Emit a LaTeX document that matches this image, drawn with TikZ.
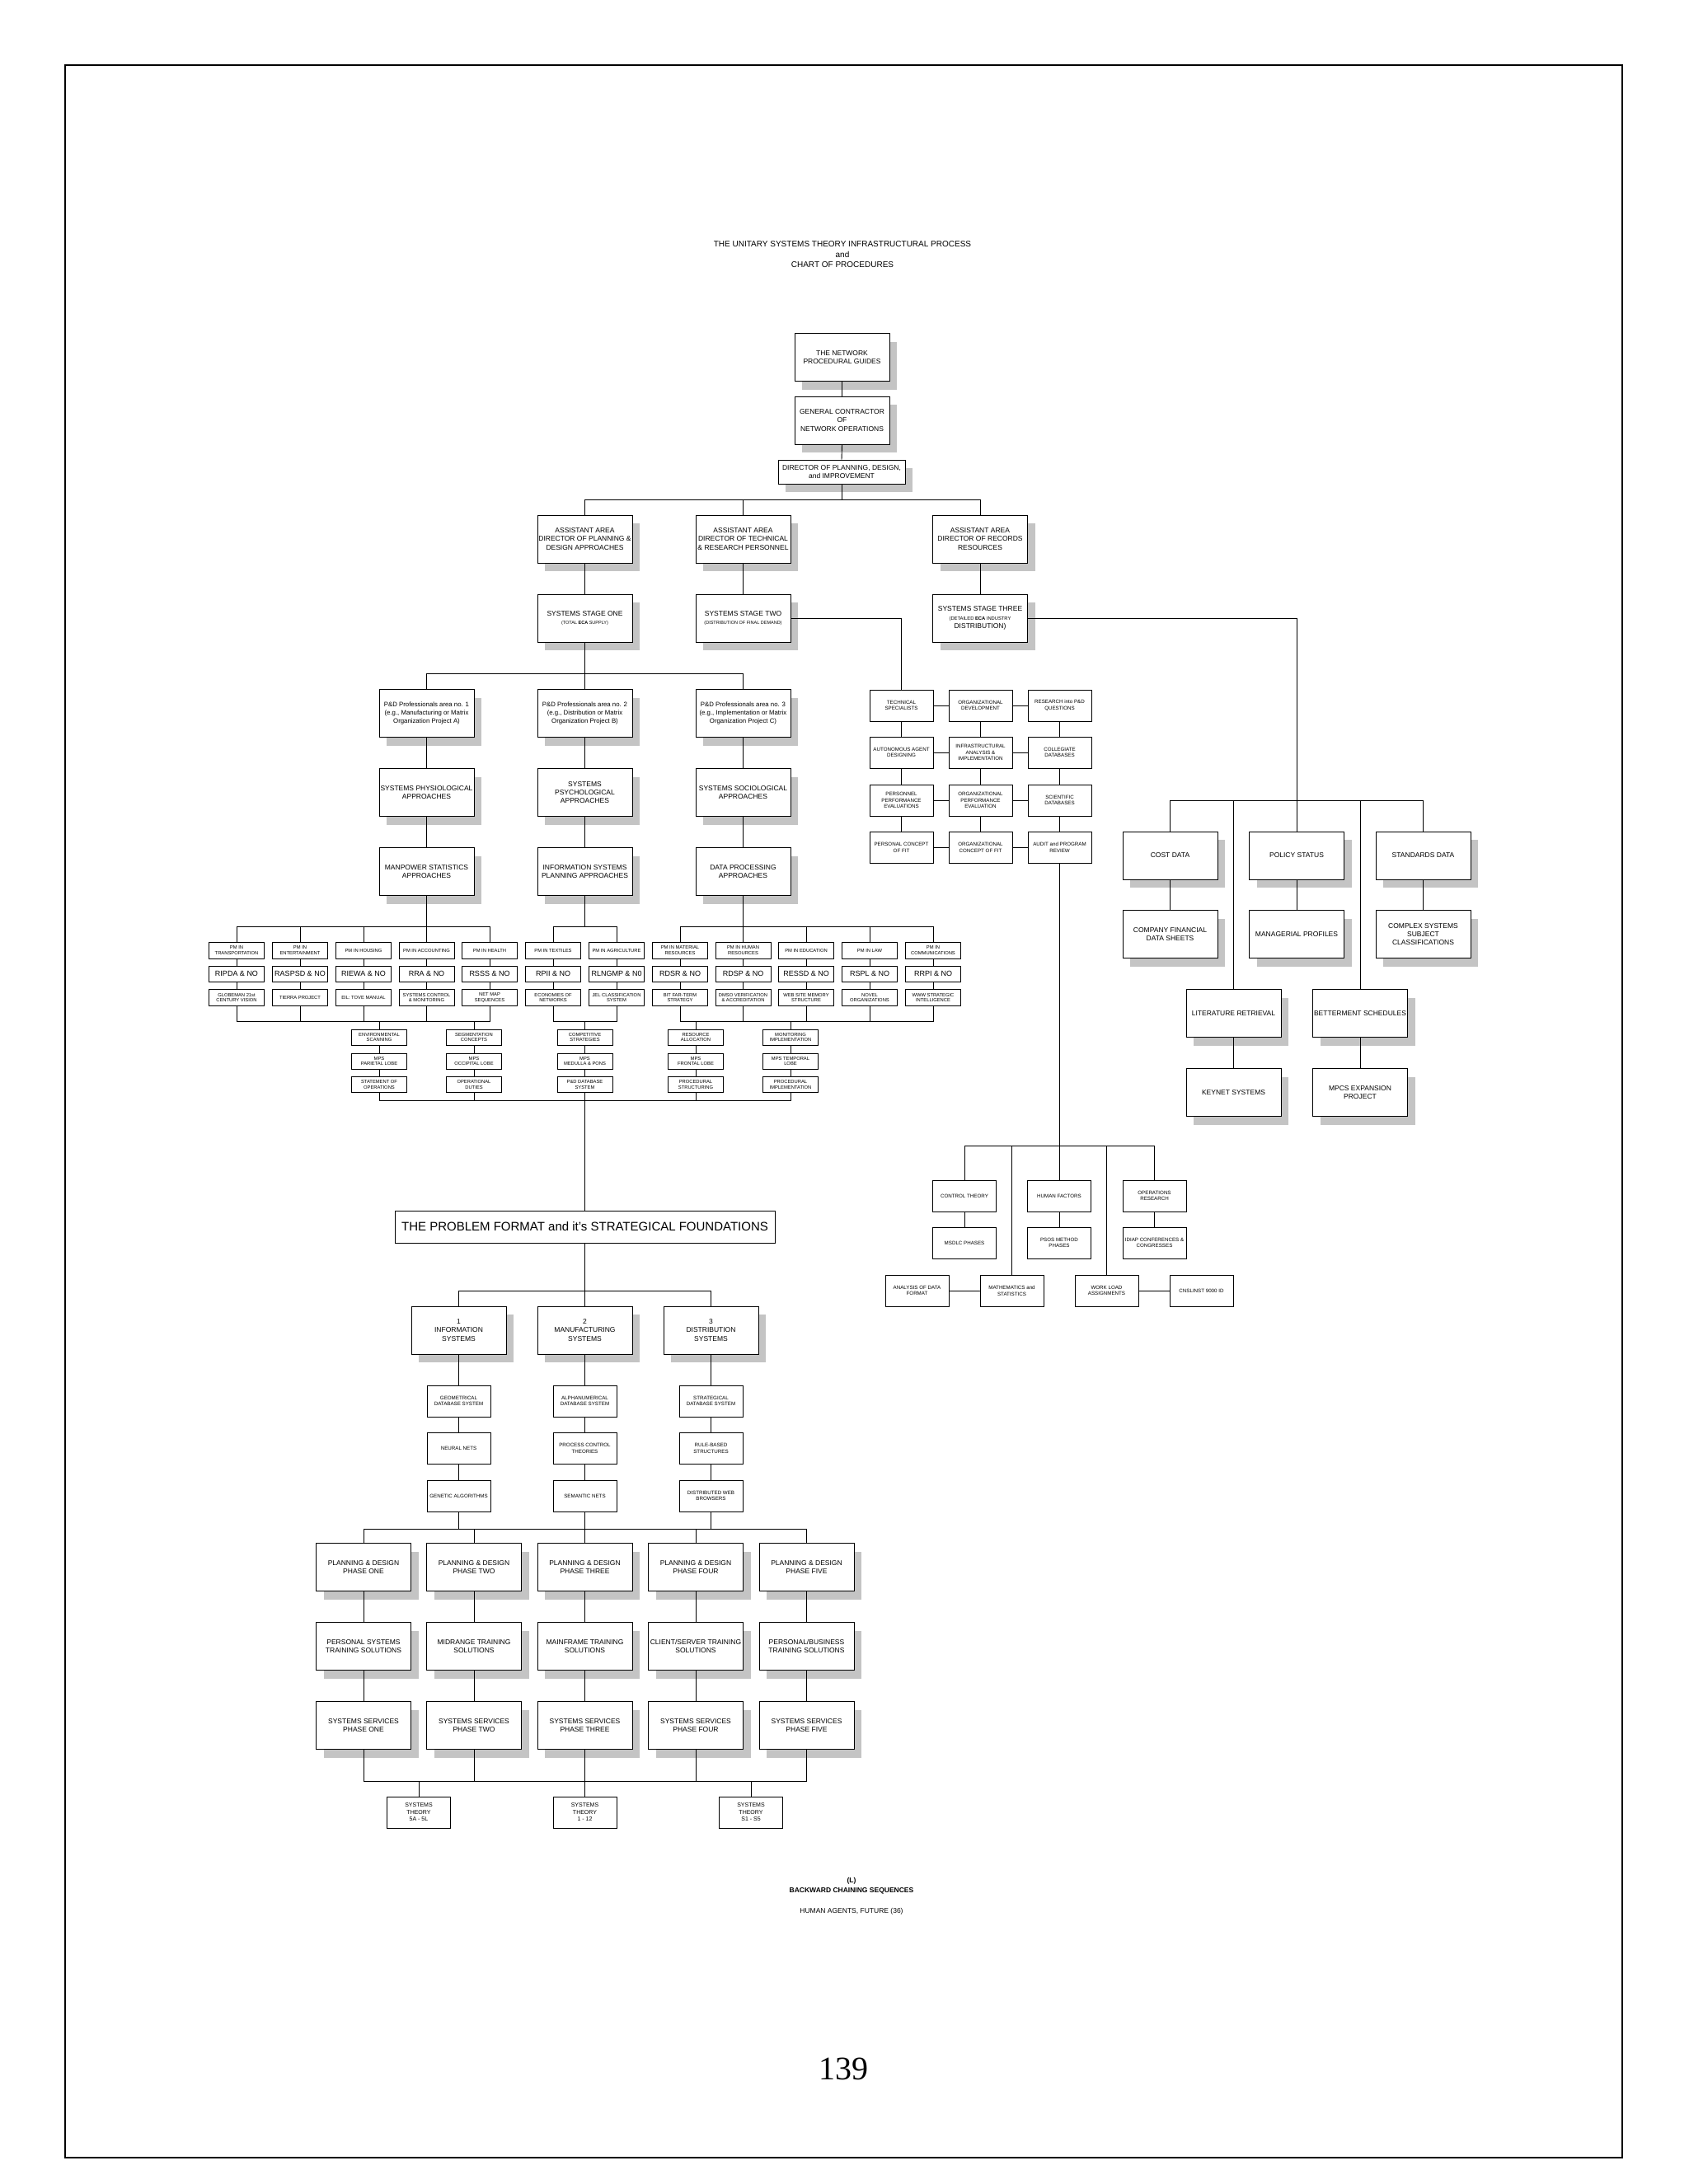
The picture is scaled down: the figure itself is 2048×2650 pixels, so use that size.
\documentclass[tikz,border=0pt]{standalone}
\usepackage{fontspec}
\setmainfont{Liberation Sans}
\newfontfamily\serifnum{Liberation Serif}
\usetikzlibrary{shadows}
\newcommand\fs[2]{\fontsize{#1}{#2}\selectfont}
\definecolor{shgray}{HTML}{C4C4C4}
\tikzset{
 every node/.style={inner sep=0pt, align=center},
 bx/.style={draw, line width=0.9pt, fill=white},
 shd/.style={drop shadow={shadow xshift=9pt, shadow yshift=-10pt, fill=shgray, opacity=1}},
 M/.style={bx,shd,minimum width=115pt,minimum height=58pt,font=\fs{8.5}{10.3}},
 S/.style={bx,minimum width=77pt,minimum height=38pt,font=\fs{6.2}{7.6}},
 P/.style={bx,minimum width=67pt,minimum height=20pt,font=\fs{5.8}{6.8}},
 R/.style={bx,minimum width=67pt,minimum height=19pt,font=\fs{9}{10}},
 ln/.style={line width=0.9pt}
}
\newcommand\busdown[3]{\foreach \c in {#3}{\draw[ln] (#1.south) -- (#1.south |- 0,#2) -| (\c.north);}}
\newcommand\busup[3]{\foreach \c in {#3}{\draw[ln] (\c.south) -- (\c.south |- 0,#2) -| (#1.north);}}
\newcommand\vl[2]{\draw[ln] (#1.south) -- (#2.north);}
\newcommand\hl[2]{\draw[ln] (#1.east) -- (#2.west);}
\begin{document}
\begin{tikzpicture}[x=1pt,y=-1pt]
\useasboundingbox (0,0) rectangle (2048,2650);
\fill[white] (0,0) rectangle (2048,2650);
\draw[line width=1.2pt] (79,79) rectangle (1968,2618);
% title
\node[font=\fs{10}{12.5}] (title) at (1022,309) {THE UNITARY SYSTEMS THEORY INFRASTRUCTURAL PROCESS\\and\\CHART OF PROCEDURES};
% top chain
\node[M] (net) at (1021.5,433.5) {THE NETWORK\\PROCEDURAL GUIDES};
\node[M] (gc) at (1021.5,510) {GENERAL CONTRACTOR\\OF\\NETWORK OPERATIONS};
\node[bx,shd,minimum width=154pt,minimum height=29pt,font=\fs{8.5}{10.3}] (dir) at (1021,572.5) {DIRECTOR OF PLANNING, DESIGN,\\and IMPROVEMENT};
\node[M] (aa1) at (709.5,654) {ASSISTANT AREA\\DIRECTOR OF PLANNING \&\\DESIGN APPROACHES};
\node[M] (aa2) at (901.5,654) {ASSISTANT AREA\\DIRECTOR OF TECHNICAL\\\& RESEARCH PERSONNEL};
\node[M] (aa3) at (1189,654) {ASSISTANT AREA\\DIRECTOR OF RECORDS\\RESOURCES};
\node[M] (st1) at (709.5,750) {SYSTEMS STAGE ONE\\\fs{5.5}{6.5}(TOTAL \textbf{ECA} SUPPLY)};
\node[M] (st2) at (901.5,750) {SYSTEMS STAGE TWO\\\fs{5.5}{6.5}(DISTRIBUTION OF FINAL DEMAND)};
\node[M] (st3) at (1189,750) {SYSTEMS STAGE THREE\\\fs{5.8}{7}(DETAILED \textbf{ECA} INDUSTRY\\DISTRIBUTION)};
\vl{net}{gc} \vl{gc}{dir}
\busdown{dir}{606}{aa1,aa2,aa3}
\vl{aa1}{st1} \vl{aa2}{st2} \vl{aa3}{st3}
% P&D columns
\node[M,font=\fs{7.8}{10.3}] (pd1) at (517.5,865.5) {P\&D Professionals area no. 1\\(e.g., Manufacturing or Matrix\\Organization Project A)};
\node[M,font=\fs{7.8}{10.3}] (pd2) at (709.5,865.5) {P\&D Professionals area no. 2\\(e.g., Distribution or Matrix\\Organization Project B)};
\node[M,font=\fs{7.8}{10.3}] (pd3) at (901.5,865.5) {P\&D Professionals area no. 3\\(e.g., Implementation or Matrix\\Organization Project C)};
\node[M] (ph1) at (517.5,961.5) {SYSTEMS PHYSIOLOGICAL\\APPROACHES};
\node[M] (ph2) at (709.5,961.5) {SYSTEMS\\PSYCHOLOGICAL\\APPROACHES};
\node[M] (ph3) at (901.5,961.5) {SYSTEMS SOCIOLOGICAL\\APPROACHES};
\node[M] (mp1) at (517.5,1057.5) {MANPOWER STATISTICS\\APPROACHES};
\node[M] (mp2) at (709.5,1057.5) {INFORMATION SYSTEMS\\PLANNING APPROACHES};
\node[M] (mp3) at (901.5,1057.5) {DATA PROCESSING\\APPROACHES};
\busdown{st1}{817}{pd1,pd2,pd3}
\vl{pd1}{ph1} \vl{pd2}{ph2} \vl{pd3}{ph3}
\vl{ph1}{mp1} \vl{ph2}{mp2} \vl{ph3}{mp3}
% PM rows
\node[P] (p1) at (287,1153) {PM IN\\TRANSPORTATION};
\node[P] (p2) at (364,1153) {PM IN\\ENTERTAINMENT};
\node[P] (p3) at (441,1153) {PM IN HOUSING};
\node[P] (p4) at (517.5,1153) {PM IN ACCOUNTING};
\node[P] (p5) at (594,1153) {PM IN HEALTH};
\node[P] (p6) at (671,1153) {PM IN TEXTILES};
\node[P] (p7) at (748,1153) {PM IN AGRICULTURE};
\node[P] (p8) at (825,1153) {PM IN MATERIAL\\RESOURCES};
\node[P] (p9) at (901.5,1153) {PM IN HUMAN\\RESOURCES};
\node[P] (p10) at (978,1153) {PM IN EDUCATION};
\node[P] (p11) at (1055,1153) {PM IN LAW};
\node[P] (p12) at (1132,1153) {PM IN\\COMMUNICATIONS};
\node[R] (r1) at (287,1181.5) {RIPDA \& NO};
\node[R] (r2) at (364,1181.5) {RASPSD \& NO};
\node[R] (r3) at (441,1181.5) {RIEWA \& NO};
\node[R] (r4) at (517.5,1181.5) {RRA \& NO};
\node[R] (r5) at (594,1181.5) {RSSS \& NO};
\node[R] (r6) at (671,1181.5) {RPII \& NO};
\node[R] (r7) at (748,1181.5) {RLNGMP \& N0};
\node[R] (r8) at (825,1181.5) {RDSR \& NO};
\node[R] (r9) at (901.5,1181.5) {RDSP \& NO};
\node[R] (r10) at (978,1181.5) {RESSD \& NO};
\node[R] (r11) at (1055,1181.5) {RSPL \& NO};
\node[R] (r12) at (1132,1181.5) {RRPI \& NO};
\node[P] (g1) at (287,1210.5) {GLOBEMAN 21st\\CENTURY VISION};
\node[P] (g2) at (364,1210.5) {TIERRA PROJECT};
\node[P] (g3) at (441,1210.5) {EIL: TOVE MANUAL};
\node[P] (g4) at (517.5,1210.5) {SYSTEMS CONTROL\\\& MONITORING};
\node[P] (g5) at (594,1210.5) {NET MAP\\SEQUENCES};
\node[P] (g6) at (671,1210.5) {ECONOMIES OF\\NETWORKS};
\node[P] (g7) at (748,1210.5) {JEL CLASSIFICATION\\SYSTEM};
\node[P] (g8) at (825,1210.5) {BIT FAR-TERM\\STRATEGY};
\node[P] (g9) at (901.5,1210.5) {DMSO VERIFICATION\\\& ACCREDITATION};
\node[P] (g10) at (978,1210.5) {WEB SITE MEMORY\\STRUCTURE};
\node[P] (g11) at (1055,1210.5) {NOVEL\\ORGANIZATIONS};
\node[P] (g12) at (1132,1210.5) {WWW STRATEGIC\\INTELLIGENCE};
\foreach \i in {1,...,12}{\vl{p\i}{r\i} \vl{r\i}{g\i}}
\busdown{mp1}{1124}{p1,p2,p3,p4,p5}
\busdown{mp2}{1124}{p6,p7}
\busdown{mp3}{1124}{p8,p9,p10,p11,p12}
% sub boxes
\tikzset{Q/.style={P,minimum height=19pt}}
\node[Q] (e1) at (460,1258.5) {ENVIRONMENTAL\\SCANNING};
\node[Q] (e2) at (460,1287.5) {MPS\\PARIETAL LOBE};
\node[Q] (e3) at (460,1316) {STATEMENT OF\\OPERATIONS};
\node[Q] (s1) at (575,1258.5) {SEGMENTATION\\CONCEPTS};
\node[Q] (s2) at (575,1287.5) {MPS\\OCCIPITAL LOBE};
\node[Q] (s3) at (575,1316) {OPERATIONAL\\DUTIES};
\node[Q] (c1) at (709.5,1258.5) {COMPETITIVE\\STRATEGIES};
\node[Q] (c2) at (709.5,1287.5) {MPS\\MEDULLA \& PONS};
\node[Q] (c3) at (709.5,1316) {P\&D DATABASE\\SYSTEM};
\node[Q] (a1) at (844,1258.5) {RESOURCE\\ALLOCATION};
\node[Q] (a2) at (844,1287.5) {MPS\\FRONTAL LOBE};
\node[Q] (a3) at (844,1316) {PROCEDURAL\\STRUCTURING};
\node[Q] (m1) at (959,1258.5) {MONITORING\\IMPLEMENTATION};
\node[Q] (m2) at (959,1287.5) {MPS TEMPORAL\\LOBE};
\node[Q] (m3) at (959,1316) {PROCEDURAL\\IMPLEMENTATION};
\foreach \n in {e,s,c,a,m}{\vl{\n1}{\n2} \vl{\n2}{\n3}}
\busup{e1}{1239}{g1,g2,g3,g4,g5}
\busup{s1}{1239}{g1,g2,g3,g4,g5}
\busup{c1}{1239}{g6,g7}
\busup{a1}{1239}{g8,g9,g10,g11,g12}
\busup{m1}{1239}{g8,g9,g10,g11,g12}
% problem format
\node[bx,minimum width=461pt,minimum height=39pt,font=\fs{15}{18}] (pf) at (709.5,1488.5) {THE PROBLEM FORMAT and it's STRATEGICAL FOUNDATIONS};
\busup{pf}{1335}{e3,s3,c3,a3,m3}
\node[M] (i1) at (556.5,1614) {1\\INFORMATION\\SYSTEMS};
\node[M] (i2) at (709.5,1614) {2\\MANUFACTURING\\SYSTEMS};
\node[M] (i3) at (862.5,1614) {3\\DISTRIBUTION\\SYSTEMS};
\busdown{pf}{1566}{i1,i2,i3}
\node[S] (x1) at (556.5,1700) {GEOMETRICAL\\DATABASE SYSTEM};
\node[S] (x2) at (556.5,1757.5) {NEURAL NETS};
\node[S] (x3) at (556.5,1815) {GENETIC ALGORITHMS};
\node[S] (y1) at (709.5,1700) {ALPHANUMERICAL\\DATABASE SYSTEM};
\node[S] (y2) at (709.5,1757.5) {PROCESS CONTROL\\THEORIES};
\node[S] (y3) at (709.5,1815) {SEMANTIC NETS};
\node[S] (z1) at (862.5,1700) {STRATEGICAL\\DATABASE SYSTEM};
\node[S] (z2) at (862.5,1757.5) {RULE-BASED\\STRUCTURES};
\node[S] (z3) at (862.5,1815) {DISTRIBUTED WEB\\BROWSERS};
\vl{i1}{x1} \vl{x1}{x2} \vl{x2}{x3}
\vl{i2}{y1} \vl{y1}{y2} \vl{y2}{y3}
\vl{i3}{z1} \vl{z1}{z2} \vl{z2}{z3}
% phases
\node[M] (ph1a) at (441,1901.5) {PLANNING \& DESIGN\\PHASE ONE};
\node[M] (ph2a) at (575,1901.5) {PLANNING \& DESIGN\\PHASE TWO};
\node[M] (ph3a) at (709.5,1901.5) {PLANNING \& DESIGN\\PHASE THREE};
\node[M] (ph4a) at (844,1901.5) {PLANNING \& DESIGN\\PHASE FOUR};
\node[M] (ph5a) at (978.5,1901.5) {PLANNING \& DESIGN\\PHASE FIVE};
\node[M] (tr1) at (441,1997.5) {PERSONAL SYSTEMS\\TRAINING SOLUTIONS};
\node[M] (tr2) at (575,1997.5) {MIDRANGE TRAINING\\SOLUTIONS};
\node[M] (tr3) at (709.5,1997.5) {MAINFRAME TRAINING\\SOLUTIONS};
\node[M] (tr4) at (844,1997.5) {CLIENT/SERVER TRAINING\\SOLUTIONS};
\node[M] (tr5) at (978.5,1997.5) {PERSONAL/BUSINESS\\TRAINING SOLUTIONS};
\node[M] (sv1) at (441,2093.5) {SYSTEMS SERVICES\\PHASE ONE};
\node[M] (sv2) at (575,2093.5) {SYSTEMS SERVICES\\PHASE TWO};
\node[M] (sv3) at (709.5,2093.5) {SYSTEMS SERVICES\\PHASE THREE};
\node[M] (sv4) at (844,2093.5) {SYSTEMS SERVICES\\PHASE FOUR};
\node[M] (sv5) at (978.5,2093.5) {SYSTEMS SERVICES\\PHASE FIVE};
\foreach \i in {1,...,5}{\vl{ph\i a}{tr\i} \vl{tr\i}{sv\i}}
\busdown{x3}{1855}{ph1a,ph2a,ph3a,ph4a,ph5a}
\busdown{y3}{1855}{ph1a,ph5a}
\busdown{z3}{1855}{ph1a,ph5a}
\node[S,font=\fs{7}{8.5}] (t1) at (508,2199) {SYSTEMS\\THEORY\\5A - 5L};
\node[S,font=\fs{7}{8.5}] (t2) at (709.5,2199) {SYSTEMS\\THEORY\\1 - 12};
\node[S,font=\fs{7}{8.5}] (t3) at (911,2199) {SYSTEMS\\THEORY\\S1 - S5};
\busup{t1}{2161}{sv1,sv2,sv3,sv4,sv5}
\busup{t2}{2161}{sv1,sv5}
\busup{t3}{2161}{sv1,sv5}
\node[font=\fs{8.5}{12}\bfseries] (bc) at (1033,2288) {(L)\\BACKWARD CHAINING SEQUENCES};
\node[font=\fs{8.5}{10}] (ha) at (1033,2319) {HUMAN AGENTS, FUTURE (36)};
\node[font=\fs{40}{44}\serifnum] (pg) at (1023,2510) {139};
% technical cluster
\node[S] (k11) at (1093.5,856) {TECHNICAL\\SPECIALISTS};
\node[S] (k12) at (1189.5,856) {ORGANIZATIONAL\\DEVELOPMENT};
\node[S] (k13) at (1285.5,856) {RESEARCH into P\&D\\QUESTIONS};
\node[S] (k21) at (1093.5,913) {AUTONOMOUS AGENT\\DESIGNING};
\node[S] (k22) at (1189.5,913) {INFRASTRUCTURAL\\ANALYSIS \&\\IMPLEMENTATION};
\node[S] (k23) at (1285.5,913) {COLLEGIATE\\DATABASES};
\node[S] (k31) at (1093.5,971) {PERSONNEL\\PERFORMANCE\\EVALUATIONS};
\node[S] (k32) at (1189.5,971) {ORGANIZATIONAL\\PERFORMANCE\\EVALUATION};
\node[S] (k33) at (1285.5,971) {SCIENTIFIC\\DATABASES};
\node[S] (k41) at (1093.5,1028.5) {PERSONAL CONCEPT\\OF FIT};
\node[S] (k42) at (1189.5,1028.5) {ORGANIZATIONAL\\CONCEPT OF FIT};
\node[S] (k43) at (1285.5,1028.5) {AUDIT and PROGRAM\\REVIEW};
\foreach \r in {1,...,4}{\hl{k\r1}{k\r2} \hl{k\r2}{k\r3}}
\foreach \c in {1,2,3}{\vl{k1\c}{k2\c} \vl{k2\c}{k3\c} \vl{k3\c}{k4\c}}
\draw[ln] (st2.east) -| (k11.north);
% lower-right cluster
\node[S] (ct) at (1170,1451) {CONTROL THEORY};
\node[S] (hf) at (1285,1451) {HUMAN FACTORS};
\node[S] (or) at (1400.5,1451) {OPERATIONS\\RESEARCH};
\node[S] (ms) at (1170,1508) {MSDLC PHASES};
\node[S] (ps) at (1285,1508) {PSOS METHOD\\PHASES};
\node[S] (id) at (1400.5,1508) {IDIAP CONFERENCES \&\\CONGRESSES};
\node[S] (ad) at (1112.5,1566) {ANALYSIS OF DATA\\FORMAT};
\node[S] (mt) at (1227.5,1566) {MATHEMATICS and\\STATISTICS};
\node[S] (wl) at (1342.5,1566) {WORK LOAD\\ASSIGNMENTS};
\node[S] (cn) at (1457.5,1566) {CNSLINST 9000 ID};
\busdown{k43}{1390}{ct,mt,hf,wl,or}
\vl{ct}{ms} \vl{hf}{ps} \vl{or}{id}
\hl{ad}{mt} \hl{wl}{cn}
% right cluster
\node[M] (cd) at (1419.5,1038) {COST DATA};
\node[M] (po) at (1573,1038) {POLICY STATUS};
\node[M] (sd) at (1726.5,1038) {STANDARDS DATA};
\node[M] (cf) at (1419.5,1133.5) {COMPANY FINANCIAL\\DATA SHEETS};
\node[M] (mpf) at (1573,1133.5) {MANAGERIAL PROFILES};
\node[M] (cx) at (1726.5,1133.5) {COMPLEX SYSTEMS\\SUBJECT\\CLASSIFICATIONS};
\node[M] (lr) at (1496.5,1229.5) {LITERATURE RETRIEVAL};
\node[M] (bs) at (1650,1229.5) {BETTERMENT SCHEDULES};
\node[M] (kn) at (1496.5,1325.5) {KEYNET SYSTEMS};
\node[M] (mx) at (1650,1325.5) {MPCS EXPANSION\\PROJECT};
\coordinate (rt) at (1573,971);
\draw[ln] (st3.east) -| (rt);
\foreach \c in {cd,po,sd,lr,bs}{\draw[ln] (rt) -| (\c.north);}
\vl{cd}{cf} \vl{po}{mpf} \vl{sd}{cx} \vl{lr}{kn} \vl{bs}{mx}
\end{tikzpicture}
\end{document}
